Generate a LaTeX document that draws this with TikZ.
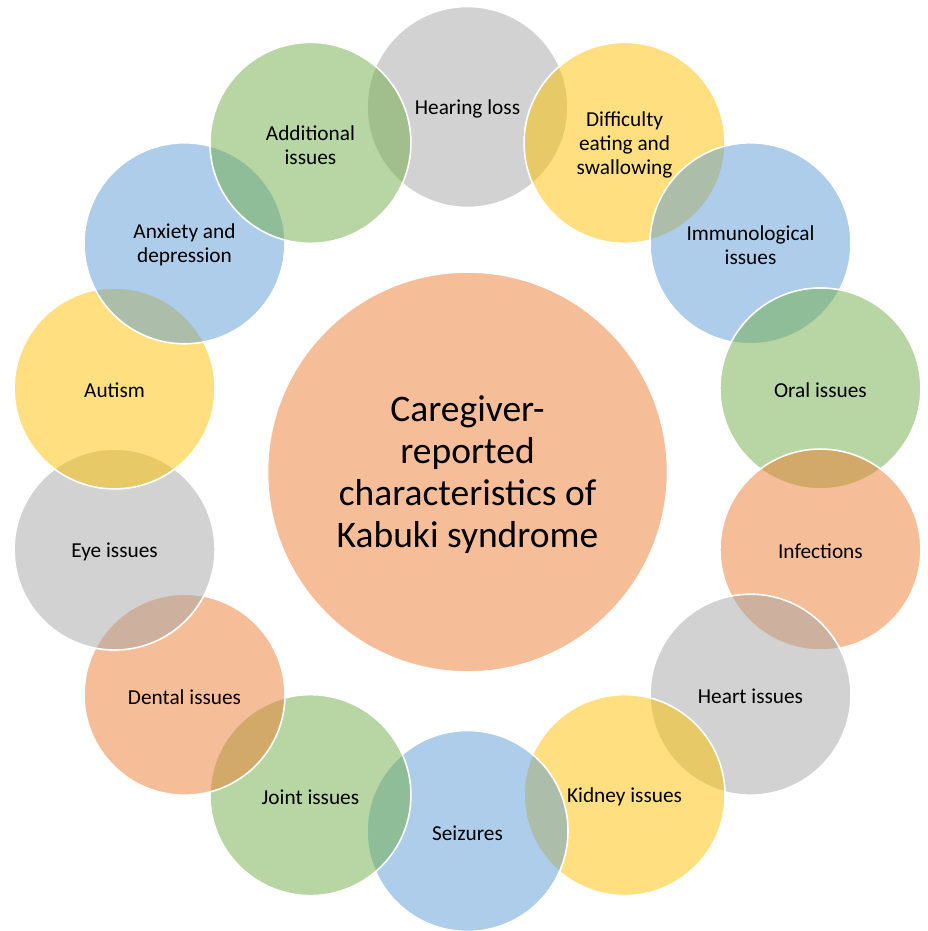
\documentclass[tikz,border=0pt]{standalone}
\usepackage{fontspec}
\setmainfont{Carlito}
\usetikzlibrary{calc}
\definecolor{cgray}{HTML}{A5A5A5}
\definecolor{cyellow}{HTML}{FFC000}
\definecolor{cblue}{HTML}{5B9BD5}
\definecolor{cgreen}{HTML}{70AD47}
\definecolor{corange}{HTML}{ED7D31}
\begin{document}
\begin{tikzpicture}[x=1pt,y=1pt,
  bub/.style={circle, minimum size=201pt, inner sep=0pt, draw=white, line width=1.6pt,
    fill opacity=0.5, draw opacity=1},
  hub/.style={circle, minimum size=400pt, inner sep=0pt, draw=white, line width=1.6pt,
    fill opacity=0.5, draw opacity=1},
  lbl/.style={align=center, text=black, inner sep=0pt, font=\fontsize{21.3}{24}\selectfont},
  hublbl/.style={align=center, text=black, inner sep=0pt, font=\fontsize{37.5}{42}\selectfont}]
\useasboundingbox (0,0) rectangle (927,931);
\coordinate (O) at (467.5,462);
\node[hub, fill=corange] (center) at (467.5,459) {};
\node[hublbl] (centert) at ([yshift=-3pt]center.center) {Caregiver-\\reported\\characteristics of\\Kabuki syndrome};
\path (O) ++(90:362) node[bub, fill=cgray] (hear) {};
\node[lbl] at ([yshift=-2pt]hear.center) {Hearing loss};
\path (O) ++(64.2857:362) node[bub, fill=cyellow] (diff) {};
\node[lbl] at ([yshift=-2pt]diff.center) {Difficulty\\eating and\\swallowing};
\path (O) ++(38.5714:362) node[bub, fill=cblue] (immu) {};
\node[lbl] at ([yshift=-2pt]immu.center) {Immunological\\issues};
\path (O) ++(12.8571:362) node[bub, fill=cgreen] (oral) {};
\node[lbl] at ([yshift=-2pt]oral.center) {Oral issues};
\path (O) ++(-12.8571:362) node[bub, fill=corange] (infe) {};
\node[lbl] at ([yshift=-2pt]infe.center) {Infections};
\path (O) ++(-38.5714:362) node[bub, fill=cgray] (heart) {};
\node[lbl] at ([yshift=-2pt]heart.center) {Heart issues};
\path (O) ++(-64.2857:362) node[bub, fill=cyellow] (kid) {};
\node[lbl] at ([yshift=-2pt]kid.center) {Kidney issues};
\path (O) ++(-90:362) node[bub, fill=cblue] (seiz) {};
\node[lbl] at ([yshift=-2pt]seiz.center) {Seizures};
\path (O) ++(-115.7143:362) node[bub, fill=cgreen] (joint) {};
\node[lbl] at ([yshift=-2pt]joint.center) {Joint issues};
\path (O) ++(-141.4286:362) node[bub, fill=corange] (dent) {};
\node[lbl] at ([yshift=-2pt]dent.center) {Dental issues};
\path (O) ++(-167.1429:362) node[bub, fill=cgray] (eye) {};
\node[lbl] at ([yshift=-2pt]eye.center) {Eye issues};
\path (O) ++(167.1429:362) node[bub, fill=cyellow] (aut) {};
\node[lbl] at ([yshift=-2pt]aut.center) {Autism};
\path (O) ++(141.4286:362) node[bub, fill=cblue] (anx) {};
\node[lbl] at ([yshift=-2pt]anx.center) {Anxiety and\\depression};
\path (O) ++(115.7143:362) node[bub, fill=cgreen] (add) {};
\node[lbl] at ([yshift=-2pt]add.center) {Additional\\issues};
\end{tikzpicture}
\end{document}
